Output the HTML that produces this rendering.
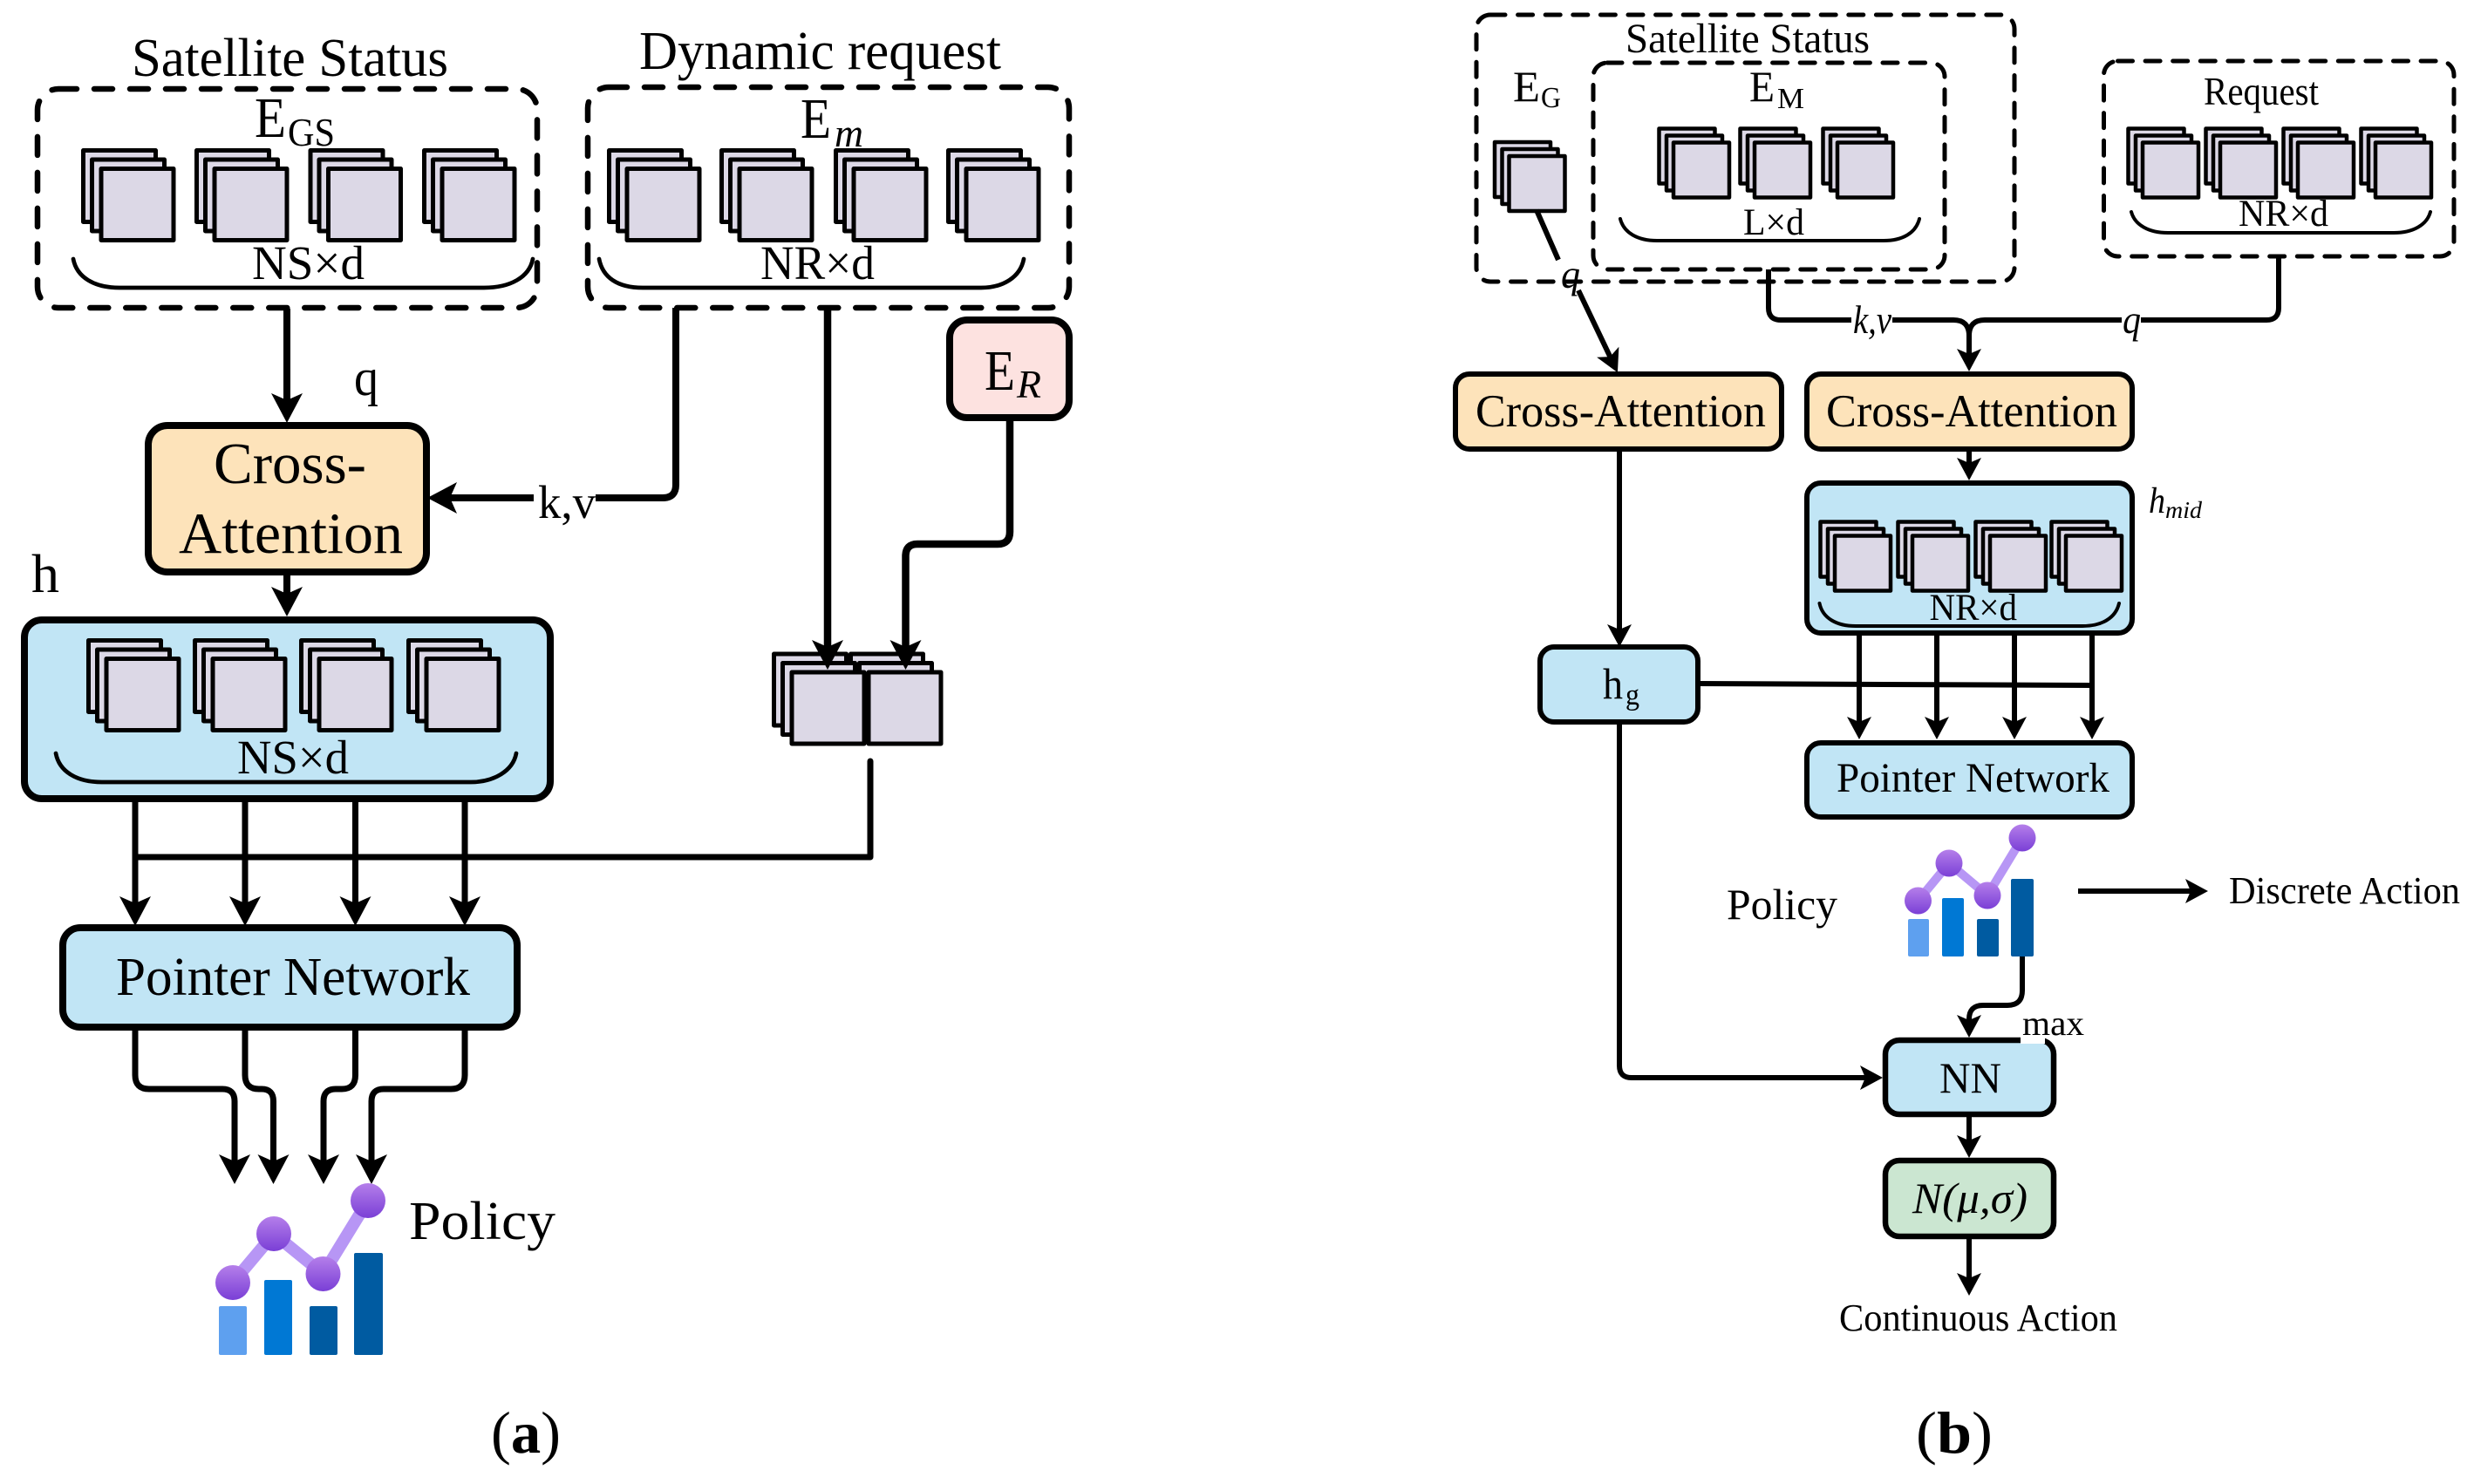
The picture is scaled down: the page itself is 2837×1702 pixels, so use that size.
<!DOCTYPE html>
<html><head><meta charset="utf-8"><style>
html,body{margin:0;padding:0;background:#fff}
svg{display:block}
text{font-family:"Liberation Serif",serif;fill:#000}
.i{font-style:italic}
.w{fill:none;stroke:#000;stroke-linejoin:round}
.c{stroke-linecap:round}
.d{fill:none;stroke:#000;stroke-width:6.500;stroke-linecap:round;stroke-dasharray:21 20}
.e{fill:none;stroke:#000;stroke-width:5;stroke-linecap:round;stroke-dasharray:17 14.600}
.bx{stroke:#000}
</style></head><body>
<svg width="2837" height="1702" viewBox="0 0 2837 1702" xmlns="http://www.w3.org/2000/svg">
<defs>
<marker id="a" markerUnits="userSpaceOnUse" markerWidth="60" markerHeight="60" viewBox="-30 -30 60 60" refX="0" refY="0" orient="auto" overflow="visible"><path d="M10 0L-24 -18L-16 0L-24 18Z" fill="#000"/></marker>
<marker id="b" markerUnits="userSpaceOnUse" markerWidth="60" markerHeight="60" viewBox="-30 -30 60 60" refX="0" refY="0" orient="auto" overflow="visible"><path d="M8 0L-18 -14L-12 0L-18 14Z" fill="#000"/></marker>
<g id="s" fill="#dcd8e6" stroke="#000" stroke-width="5" stroke-linejoin="round"><rect x="1.500" y="1.500" width="83" height="82"/><rect x="11.500" y="12" width="83" height="82"/><rect x="22" y="22.500" width="83" height="82"/></g>
<g id="t" fill="#dcd8e6" stroke="#000" stroke-width="4.500" stroke-linejoin="round"><rect x="1.500" y="1.500" width="64" height="63"/><rect x="10" y="9.500" width="64" height="63"/><rect x="18" y="17.500" width="64" height="63"/></g>
<linearGradient id="g" x1="0" y1="0" x2="0" y2="1"><stop offset="0" stop-color="#b57fea"/><stop offset="1" stop-color="#7a3fd6"/></linearGradient>
</defs>

<!-- Panel a -->
<rect class="d" x="43" y="102" width="573" height="251" rx="24"/>
<rect class="d" x="674" y="100" width="552" height="253" rx="24"/>
<text x="151" y="87" font-size="62" textLength="363" lengthAdjust="spacingAndGlyphs">Satellite Status</text>
<text x="733" y="79" font-size="62" textLength="415" lengthAdjust="spacingAndGlyphs">Dynamic request</text>
<text x="292" y="157" font-size="66" textLength="36" lengthAdjust="spacingAndGlyphs">E</text>
<text x="330" y="167" font-size="45" textLength="54" lengthAdjust="spacingAndGlyphs">GS</text>
<text x="918" y="158" font-size="66" textLength="35" lengthAdjust="spacingAndGlyphs">E</text>
<text class="i" x="957" y="168" font-size="45" textLength="33" lengthAdjust="spacingAndGlyphs">m</text>

<use href="#s" x="94" y="171"/><use href="#s" x="224" y="171"/><use href="#s" x="354.500" y="171"/><use href="#s" x="485" y="171"/>
<use href="#s" x="697" y="171"/><use href="#s" x="826" y="171"/><use href="#s" x="957" y="171"/><use href="#s" x="1086" y="171"/>
<path class="w c" stroke-width="4.700" d="M84 297C88 318 108 330 137 330H555C585 330 607 318 611 297"/>
<path class="w c" stroke-width="4.700" d="M687 297C691 318 708 330 737 330H1125C1150 330 1170 318 1174 297"/>
<text x="289" y="320" font-size="55" textLength="129" lengthAdjust="spacingAndGlyphs">NS×d</text>
<text x="872" y="320" font-size="55" textLength="131" lengthAdjust="spacingAndGlyphs">NR×d</text>

<path class="w" stroke-width="8" marker-end="url(#a)" d="M329 354V475"/>
<text x="406" y="453" font-size="60" textLength="28" lengthAdjust="spacingAndGlyphs">q</text>
<rect class="bx" x="170" y="488" width="319" height="168" rx="22" fill="#fde3ba" stroke-width="8"/>
<text x="245" y="554" font-size="67" textLength="175" lengthAdjust="spacingAndGlyphs">Cross-</text>
<text x="205" y="634" font-size="67" textLength="257" lengthAdjust="spacingAndGlyphs">Attention</text>
<path class="w" stroke-width="8" d="M775 353V556Q775 571 760 571H683"/>
<path class="w" stroke-width="8" marker-end="url(#a)" d="M612 571H500"/>
<text x="617" y="594" font-size="54" textLength="66" lengthAdjust="spacingAndGlyphs">k,v</text>
<text x="36" y="679" font-size="62" textLength="32" lengthAdjust="spacingAndGlyphs">h</text>
<path class="w" stroke-width="8" marker-end="url(#a)" d="M329 656V697"/>

<rect class="bx" x="28" y="711" width="603" height="205" rx="20" fill="#c1e5f5" stroke-width="8"/>
<use href="#s" x="100" y="733"/><use href="#s" x="222" y="733"/><use href="#s" x="344" y="733"/><use href="#s" x="467" y="733"/>
<path class="w c" stroke-width="4.700" d="M64 864C68 885 88 897 117 897H540C565 897 588 885 592 864"/>
<text x="272" y="887" font-size="55" textLength="128" lengthAdjust="spacingAndGlyphs">NS×d</text>

<path class="w" stroke-width="7" marker-end="url(#a)" d="M155 916V1052"/>
<path class="w" stroke-width="7" marker-end="url(#a)" d="M281 916V1052"/>
<path class="w" stroke-width="7" marker-end="url(#a)" d="M407.500 916V1052"/>
<path class="w" stroke-width="7" marker-end="url(#a)" d="M533 916V1052"/>
<path class="w c" stroke-width="7" d="M155 983H998V873"/>

<rect class="bx" x="72" y="1064" width="521" height="114" rx="20" fill="#c1e5f5" stroke-width="8"/>
<text x="133" y="1141" font-size="62" textLength="406" lengthAdjust="spacingAndGlyphs">Pointer Network</text>
<path class="w" stroke-width="7" marker-end="url(#a)" d="M155 1178V1233Q155 1249 171 1249H255Q269 1249 269 1263V1348"/>
<path class="w" stroke-width="7" marker-end="url(#a)" d="M281 1178V1233Q281 1249 297 1249H300Q313.500 1249 313.500 1263V1348"/>
<path class="w" stroke-width="7" marker-end="url(#a)" d="M407.500 1178V1233Q407.500 1249 392 1249H385Q371 1249 371 1263V1348"/>
<path class="w" stroke-width="7" marker-end="url(#a)" d="M533 1178V1233Q533 1249 517 1249H440Q426 1249 426 1263V1348"/>

<rect x="251" y="1498" width="32" height="56" rx="2" fill="#5ea0ef"/>
<rect x="303" y="1468" width="32" height="86" rx="2" fill="#0078d4"/>
<rect x="355" y="1498" width="32" height="56" rx="2" fill="#005ba1"/>
<rect x="406" y="1437" width="33" height="117" rx="2" fill="#005ba1"/>
<path d="M267 1471L314 1415L370.500 1461L422 1377" fill="none" stroke="#b796f5" stroke-width="14"/>
<circle cx="267" cy="1471" r="20" fill="url(#g)"/><circle cx="314" cy="1415" r="20" fill="url(#g)"/><circle cx="370.500" cy="1461" r="20" fill="url(#g)"/><circle cx="422" cy="1377" r="20" fill="url(#g)"/>
<text x="469" y="1421" font-size="62" textLength="168" lengthAdjust="spacingAndGlyphs">Policy</text>
<text x="563" y="1666" font-size="68" textLength="80" lengthAdjust="spacingAndGlyphs">(<tspan font-weight="bold">a</tspan>)</text>

<rect class="bx" x="1089" y="367" width="137" height="112" rx="20" fill="#fde2e0" stroke-width="8"/>
<text x="1129" y="447" font-size="66" textLength="35" lengthAdjust="spacingAndGlyphs">E</text>
<text class="i" x="1166" y="456" font-size="45" textLength="28" lengthAdjust="spacingAndGlyphs">R</text>
<use href="#s" x="974" y="748.500"/><use href="#s" x="886" y="748.500"/>
<path class="w" stroke-width="8.500" marker-end="url(#a)" d="M949 353V758"/>
<path class="w" stroke-width="8.500" marker-end="url(#a)" d="M1158 479V610Q1158 624 1144 624H1052Q1038.500 624 1038.500 638V758"/>

<!-- Panel b -->
<rect class="e" x="1693" y="17" width="617" height="306" rx="16"/>
<rect class="e" x="1827" y="72" width="403" height="237" rx="16"/>
<rect class="e" x="2412.500" y="70" width="401.500" height="224" rx="16"/>
<text x="1864" y="60" font-size="48" textLength="280" lengthAdjust="spacingAndGlyphs">Satellite Status</text>
<text x="1735" y="116" font-size="50" textLength="31" lengthAdjust="spacingAndGlyphs">E</text>
<text x="1767" y="123" font-size="34" textLength="23" lengthAdjust="spacingAndGlyphs">G</text>
<text x="2006" y="116" font-size="50" textLength="29" lengthAdjust="spacingAndGlyphs">E</text>
<text x="2038" y="124" font-size="34" textLength="31" lengthAdjust="spacingAndGlyphs">M</text>
<text x="2527" y="120" font-size="46" textLength="132" lengthAdjust="spacingAndGlyphs">Request</text>
<use href="#t" x="1712.500" y="161.500"/>
<use href="#t" x="1901" y="146"/><use href="#t" x="1994" y="146"/><use href="#t" x="2089" y="146"/>
<use href="#t" x="2439" y="146"/><use href="#t" x="2528" y="146"/><use href="#t" x="2617" y="146"/><use href="#t" x="2706" y="146"/>
<path class="w c" stroke-width="4" d="M1858 251C1862 267 1878 276 1900 276H2160C2182 276 2197 267 2201 251"/>
<path class="w c" stroke-width="4" d="M2444 243C2448 258 2464 267 2486 267H2745C2767 267 2783 258 2787 243"/>
<text x="1999" y="269" font-size="43" textLength="70" lengthAdjust="spacingAndGlyphs">L×d</text>
<text x="2567" y="259" font-size="43" textLength="103" lengthAdjust="spacingAndGlyphs">NR×d</text>

<path class="w" stroke-width="6" d="M1762 241L1787 298"/>
<path class="w" stroke-width="6" marker-end="url(#b)" d="M1810 333L1851.500 420"/>
<text class="i" x="1790" y="330" font-size="46" textLength="22" lengthAdjust="spacingAndGlyphs">q</text>
<path class="w" stroke-width="6" d="M2028 309V353Q2028 367 2042 367H2123"/>
<path class="w" stroke-width="6" d="M2170 367H2240Q2258 367 2258 385"/>
<path class="w" stroke-width="6" d="M2613 294V353Q2613 367 2599 367H2455"/>
<path class="w" stroke-width="6" d="M2433 367H2276Q2258 367 2258 385"/>
<path class="w" stroke-width="6" marker-end="url(#b)" d="M2258 385V418"/>
<text class="i" x="2125" y="382" font-size="46" textLength="44" lengthAdjust="spacingAndGlyphs">k,v</text>
<text class="i" x="2434" y="382" font-size="46" textLength="21" lengthAdjust="spacingAndGlyphs">q</text>

<rect class="bx" x="1669" y="429" width="374" height="86" rx="16" fill="#fde3ba" stroke-width="6"/>
<rect class="bx" x="2072" y="429" width="373" height="86" rx="16" fill="#fde3ba" stroke-width="6"/>
<text x="1692" y="489" font-size="53" textLength="333" lengthAdjust="spacingAndGlyphs">Cross-Attention</text>
<text x="2094" y="489" font-size="53" textLength="334" lengthAdjust="spacingAndGlyphs">Cross-Attention</text>
<path class="w" stroke-width="6" marker-end="url(#b)" d="M2258 515V543"/>

<rect class="bx" x="2072" y="554" width="373" height="172" rx="16" fill="#c1e5f5" stroke-width="6"/>
<use href="#t" x="2086" y="597"/><use href="#t" x="2175" y="597"/><use href="#t" x="2264" y="597"/><use href="#t" x="2351" y="597"/>
<path class="w c" stroke-width="4" d="M2086.500 692C2090 709 2106 718 2128 718H2388C2410 718 2426 709 2430 692"/>
<text x="2212.500" y="711" font-size="43" textLength="100.500" lengthAdjust="spacingAndGlyphs">NR×d</text>
<text class="i" x="2464" y="588" font-size="42" textLength="19" lengthAdjust="spacingAndGlyphs">h</text>
<text class="i" x="2483" y="594" font-size="27" textLength="42" lengthAdjust="spacingAndGlyphs">mid</text>

<path class="w" stroke-width="6" marker-end="url(#b)" d="M2132 726V840"/>
<path class="w" stroke-width="6" marker-end="url(#b)" d="M2221 726V840"/>
<path class="w" stroke-width="6" marker-end="url(#b)" d="M2310 726V840"/>
<path class="w" stroke-width="6" marker-end="url(#b)" d="M2399 726V840"/>

<path class="w" stroke-width="6" marker-end="url(#b)" d="M1857 515V734"/>
<rect class="bx" x="1766" y="742" width="181" height="86" rx="16" fill="#c1e5f5" stroke-width="6"/>
<text x="1838" y="801" font-size="50" textLength="23" lengthAdjust="spacingAndGlyphs">h</text>
<text x="1864" y="808" font-size="34" textLength="16" lengthAdjust="spacingAndGlyphs">g</text>
<path class="w" stroke-width="6" d="M1947 784L2399 786"/>
<path class="w" stroke-width="6" marker-end="url(#b)" d="M1857 828V1222Q1857 1236 1871 1236H2151"/>

<rect class="bx" x="2072" y="852" width="373" height="85" rx="16" fill="#c1e5f5" stroke-width="6"/>
<text x="2106" y="908" font-size="48" textLength="313" lengthAdjust="spacingAndGlyphs">Pointer Network</text>

<rect x="2188" y="1054" width="24" height="43" rx="2" fill="#5ea0ef"/>
<rect x="2227" y="1030" width="25" height="67" rx="2" fill="#0078d4"/>
<rect x="2267" y="1054" width="25" height="43" rx="2" fill="#005ba1"/>
<rect x="2306" y="1008" width="26" height="89" rx="2" fill="#005ba1"/>
<path d="M2199.500 1033L2235 990L2279 1027L2319 961" fill="none" stroke="#b796f5" stroke-width="10"/>
<circle cx="2199.500" cy="1033" r="15.500" fill="url(#g)"/><circle cx="2235" cy="990" r="15.500" fill="url(#g)"/><circle cx="2279" cy="1027" r="15.500" fill="url(#g)"/><circle cx="2319" cy="961" r="15.500" fill="url(#g)"/>
<text x="1980" y="1054" font-size="50" textLength="127" lengthAdjust="spacingAndGlyphs">Policy</text>
<path class="w" stroke-width="6" marker-end="url(#b)" d="M2383 1022H2524"/>
<text x="2556" y="1036" font-size="44" textLength="265" lengthAdjust="spacingAndGlyphs">Discrete Action</text>

<rect class="bx" x="2162" y="1193" width="193" height="85" rx="16" fill="#c1e5f5" stroke-width="6.500"/>
<rect x="2317" y="1170" width="28" height="27" fill="#fff"/>
<path class="w" stroke-width="6" marker-end="url(#b)" d="M2319 1097V1136Q2319 1153 2302 1153H2274Q2258 1153 2258 1169V1182"/>
<text x="2319" y="1187" font-size="40" textLength="71" lengthAdjust="spacingAndGlyphs">max</text>
<text x="2224" y="1253" font-size="50" textLength="71" lengthAdjust="spacingAndGlyphs">NN</text>
<path class="w" stroke-width="6" marker-end="url(#b)" d="M2258 1279V1320"/>
<rect class="bx" x="2162" y="1331" width="193" height="87" rx="16" fill="#cbe6d1" stroke-width="6.500"/>
<text class="i" x="2193" y="1391" font-size="50" textLength="132" lengthAdjust="spacingAndGlyphs">N(μ,σ)</text>
<path class="w" stroke-width="6" marker-end="url(#b)" d="M2258 1418V1478"/>
<text x="2109" y="1526" font-size="44" textLength="319" lengthAdjust="spacingAndGlyphs">Continuous Action</text>
<text x="2197" y="1666" font-size="68" textLength="88" lengthAdjust="spacingAndGlyphs">(<tspan font-weight="bold">b</tspan>)</text>
</svg>
</body></html>
